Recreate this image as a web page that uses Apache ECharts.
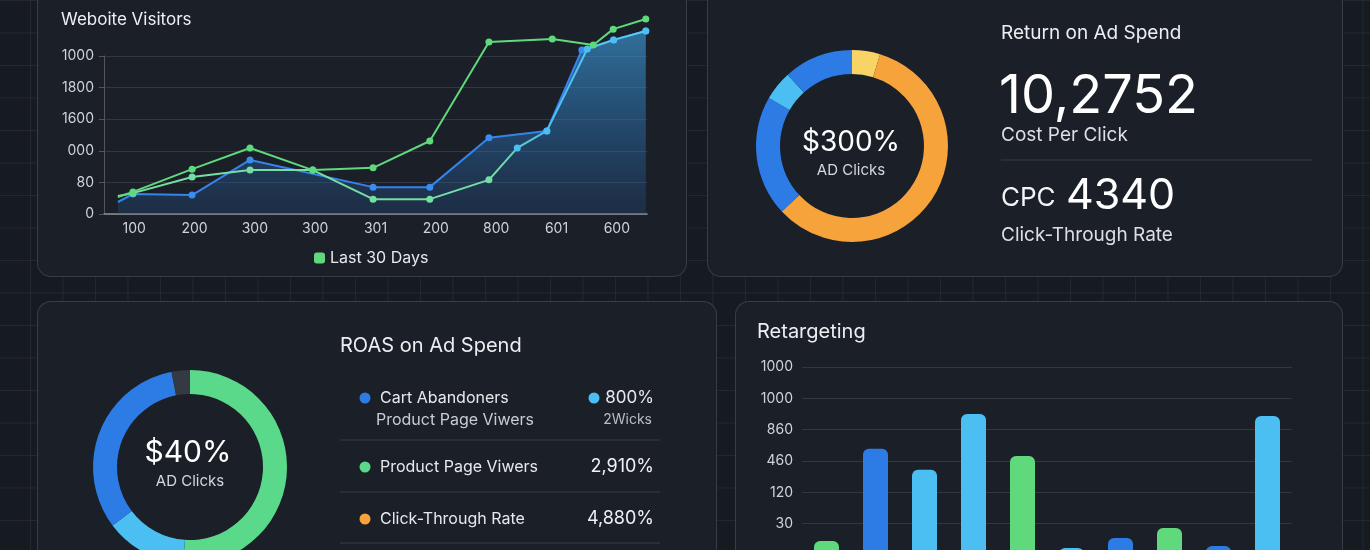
<!DOCTYPE html>
<html>
<head>
<meta charset="utf-8">
<script src="https://cdn.jsdelivr.net/npm/echarts@6/dist/echarts.min.js"></script>
<style>
html, body {
    margin: 0;
    padding: 0;
    width: 1370px;
    height: 550px;
    overflow: hidden;
    background-color: #161a21;
    background-image:
        linear-gradient(rgba(255,255,255,0.06) 1px, transparent 1px),
        linear-gradient(90deg, rgba(255,255,255,0.06) 1px, transparent 1px);
    background-size: 32.5px 32.5px;
    background-position: 30px 0;
    font-family: Inter, 'Noto Sans', sans-serif;
}
.panel {
    position: absolute;
    background: #1b1f28;
    border: 1px solid rgba(255,255,255,0.13);
    border-radius: 14px;
    box-sizing: border-box;
}
#chart {
    position: absolute;
    left: 0;
    top: 0;
    width: 1370px;
    height: 550px;
}
</style>
</head>
<body>
<div class="panel" style="left:37px;top:-30px;width:650px;height:307px"></div>
<div class="panel" style="left:707px;top:-30px;width:636px;height:307px"></div>
<div class="panel" style="left:37px;top:301px;width:680px;height:280px"></div>
<div class="panel" style="left:735px;top:301px;width:608px;height:280px"></div>
<div id="chart"></div>

<script>
// website visitors (y in tick steps, x in category widths)
const visitorCats = ['100', '200', '300', '300', '301', '200', '800', '601', '600']
const visitorTicks = ['0', '80', '000', '1600', '1800', '1000']
const lastDaysX = [0.23, 0.48, 1.46, 2.42, 3.46, 4.46, 5.40, 6.38, 7.43, 8.11, 8.44, 8.98]
const lastDaysY = [0.54, 0.70, 1.42, 2.09, 1.39, 1.46, 2.31, 5.44, 5.54, 5.35, 5.85, 6.17]
const priorX = [0.23, 0.48, 1.46, 2.42, 3.46, 4.46, 5.40, 6.38, 6.85, 7.34, 8.01, 8.45, 8.98]
const priorY = [0.57, 0.66, 1.17, 1.39, 1.39, 0.47, 0.47, 1.08, 2.09, 2.63, 5.22, 5.51, 5.79]
const visitorsX = [0.23, 0.48, 1.46, 2.42, 4.46, 5.40, 6.38, 7.34, 7.92, 8.44, 8.98]
const visitorsY = [0.38, 0.63, 0.60, 1.71, 0.85, 0.85, 2.41, 2.63, 5.19, 5.51, 5.79]

// return on ad spend donut (degrees, clockwise from top)
const spendNames = ['Search', 'Display', 'Social', 'Video', 'Email']
const spendValues = [17, 210, 73, 18, 42]

// ROAS donut
const roasNames = ['Product Page Viwers', 'Click Share', 'Cart Abandoners', 'Other']
const roasValues = [184, 49, 116, 11]

// retargeting bars (in tick steps), the 0 tick sits below the page
const retargetCats = ['1', '2', '3', '4', '5', '6', '7', '8', '9', '10']
const retargetTicks = ['', '30', '120', '460', '860', '1000', '1000']
const retargetValues = [0.45, 3.39, 2.72, 4.50, 3.16, 0.22, 0.54, 0.86, 0.29, 4.44]

const GREEN = '#5fd97c'
const MINT = '#74dea4'
const BLUE = '#2d7be4'
const SKY = '#4cbff2'
const ORANGE = '#f5a33a'
const YELLOW = '#f8d466'
const FONT = 'Inter, "Noto Sans", sans-serif'
const barColors = [GREEN, BLUE, SKY, SKY, GREEN, SKY, BLUE, GREEN, BLUE, SKY]

function pairs(xs, ys) {
    return xs.map((x, i) => [x, ys[i]])
}

function txt(text, x, y, size, color, align, weight) {
    return {
        type: 'text',
        z: 100,
        style: {
            text: text,
            x: x,
            y: y,
            fill: color || '#e9ebef',
            font: (weight || 400) + ' ' + size + 'px ' + FONT,
            textAlign: align || 'left',
            textVerticalAlign: 'middle',
            align: align || 'left',
            verticalAlign: 'middle'
        }
    }
}
function hline(x1, x2, y) {
    return {
        type: 'line',
        z: 100,
        shape: { x1: x1, y1: y, x2: x2, y2: y },
        style: { stroke: 'rgba(255,255,255,0.13)', lineWidth: 1 }
    }
}
function dot(x, y, color) {
    return {
        type: 'circle',
        z: 100,
        shape: { cx: x, cy: y, r: 5.5 },
        style: { fill: color }
    }
}

const labelStyle = { color: '#cfd3da', fontSize: 14, fontFamily: FONT }

const option = {
    animation: false,
    textStyle: { fontFamily: FONT },
    legend: {
        data: ['Last 30 Days'],
        left: 309,
        top: 245,
        icon: 'roundRect',
        itemWidth: 11,
        itemHeight: 11,
        itemGap: 6,
        textStyle: { color: '#e6e8ec', fontSize: 16, fontFamily: FONT }
    },
    grid: [
        { left: 104, top: 56, width: 543, height: 158, outerBoundsMode: 'none' },
        { left: 802, top: 367, width: 490, height: 188, outerBoundsMode: 'none' }
    ],
    xAxis: [
        {
            type: 'category',
            gridIndex: 0,
            data: visitorCats,
            boundaryGap: true,
            axisTick: { show: false },
            axisLine: { lineStyle: { color: '#8a919b', width: 1.5 } },
            axisLabel: Object.assign({ margin: 8 }, labelStyle)
        },
        {
            type: 'value',
            gridIndex: 0,
            min: 0,
            max: 9,
            show: false
        },
        {
            type: 'category',
            gridIndex: 1,
            data: retargetCats,
            axisTick: { show: false },
            axisLine: { show: false },
            axisLabel: { show: false }
        }
    ],
    yAxis: [
        {
            type: 'value',
            gridIndex: 0,
            min: 0,
            max: 5,
            interval: 1,
            axisLabel: Object.assign({ margin: 10, formatter: v => visitorTicks[v] }, labelStyle),
            splitLine: { lineStyle: { color: 'rgba(255,255,255,0.11)' } }
        },
        {
            type: 'value',
            gridIndex: 1,
            min: 0,
            max: 6,
            interval: 1,
            axisLabel: Object.assign({ margin: 9, formatter: v => retargetTicks[v] }, labelStyle),
            splitLine: { lineStyle: { color: 'rgba(255,255,255,0.11)' } }
        }
    ],
    series: [
        {
            name: 'Visitors',
            type: 'line',
            xAxisIndex: 1,
            yAxisIndex: 0,
            clip: false,
            data: pairs(visitorsX, visitorsY),
            symbol: 'circle',
            symbolSize: (v, p) => p.dataIndex === 0 ? 0 : 7,
            lineStyle: { color: '#3584ec', width: 2 },
            itemStyle: { color: '#3a8cf0' },
            areaStyle: {
                color: new echarts.graphic.LinearGradient(0, 0, 0, 1, [
                    { offset: 0, color: 'rgba(62,160,225,0.9)' },
                    { offset: 0.6, color: 'rgba(44,115,180,0.62)' },
                    { offset: 1, color: 'rgba(38,85,145,0.4)' }
                ])
            },
            z: 2
        },
        {
            name: 'Prior Period',
            type: 'line',
            xAxisIndex: 1,
            yAxisIndex: 0,
            clip: false,
            data: pairs(priorX, priorY).map(p => ({
                value: p,
                itemStyle: { color: p[0] > 6.8 ? SKY : MINT }
            })),
            symbol: 'circle',
            symbolSize: (v, p) => p.dataIndex === 0 ? 0 : 7,
            lineStyle: {
                width: 2,
                color: new echarts.graphic.LinearGradient(0, 0, 1, 0, [
                    { offset: 0, color: MINT },
                    { offset: 0.72, color: MINT },
                    { offset: 0.8, color: SKY },
                    { offset: 1, color: '#5ccaf4' }
                ])
            },
            z: 3
        },
        {
            name: 'Last 30 Days',
            type: 'line',
            xAxisIndex: 1,
            yAxisIndex: 0,
            clip: false,
            data: pairs(lastDaysX, lastDaysY),
            symbol: 'circle',
            symbolSize: (v, p) => p.dataIndex === 0 ? 0 : 7,
            lineStyle: { color: GREEN, width: 2 },
            itemStyle: { color: GREEN },
            z: 4
        },
        {
            name: 'Ad Spend',
            type: 'pie',
            center: [852, 146],
            radius: [72, 96],
            startAngle: 90,
            label: { show: false },
            emphasis: { disabled: true },
            data: spendValues.map((v, i) => ({ name: spendNames[i], value: v })),
            color: [YELLOW, ORANGE, BLUE, SKY, BLUE]
        },
        {
            name: 'ROAS',
            type: 'pie',
            center: [190, 467],
            radius: [73, 97],
            startAngle: 90,
            label: { show: false },
            emphasis: { disabled: true },
            data: roasValues.map((v, i) => ({ name: roasNames[i], value: v })),
            color: ['#5bd98a', SKY, BLUE, '#343944']
        },
        {
            name: 'Retargeting',
            type: 'bar',
            xAxisIndex: 2,
            yAxisIndex: 1,
            barWidth: 25,
            data: retargetValues,
            itemStyle: {
                borderRadius: [6, 6, 0, 0],
                color: p => barColors[p.dataIndex]
            }
        }
    ],
    graphic: [
        txt('Weboite Visitors', 61, 20, 17, '#eef0f3'),

        txt('$300%', 851, 143, 28, '#ffffff', 'center'),
        txt('AD Clicks', 851, 170, 15, '#d3d7dd', 'center'),
        txt('Return on Ad Spend', 1001, 33, 19, '#eceef1'),
        txt('10,2752', 999, 97, 54, '#ffffff'),
        txt('Cost Per Click', 1001, 135, 19, '#dcdfe4'),
        hline(1001, 1312, 160),
        txt('CPC', 1001, 198, 26, '#f3f4f6'),
        txt('4340', 1066, 196, 43, '#ffffff'),
        txt('Click-Through Rate', 1001, 235, 19, '#dcdfe4'),

        txt('$40%', 188, 453, 30, '#ffffff', 'center'),
        txt('AD Clicks', 190, 481, 15, '#d3d7dd', 'center'),
        txt('ROAS on Ad Spend', 340, 346, 20, '#eceef1'),
        dot(365, 398, BLUE),
        txt('Cart Abandoners', 380, 398, 16, '#e6e8ec'),
        txt('Product Page Viwers', 376, 420, 16, '#c8ccd3'),
        dot(594, 398, SKY),
        txt('800%', 654, 398, 17, '#e6e8ec', 'right'),
        txt('2Wicks', 652, 420, 14, '#b9bec6', 'right'),
        hline(340, 660, 440),
        dot(365, 467, '#5bd98a'),
        txt('Product Page Viwers', 380, 467, 16, '#e6e8ec'),
        txt('2,910%', 654, 467, 18, '#eef0f3', 'right'),
        hline(340, 660, 492),
        dot(365, 519, ORANGE),
        txt('Click-Through Rate', 380, 519, 16, '#e6e8ec'),
        txt('4,880%', 654, 519, 18, '#eef0f3', 'right'),
        hline(340, 660, 543),

        txt('Retargeting', 757, 332, 20, '#eceef1')
    ]
}

const chart = echarts.init(document.getElementById('chart'), null, { renderer: 'canvas' })
chart.setOption(option)
</script>
</body>
</html>
